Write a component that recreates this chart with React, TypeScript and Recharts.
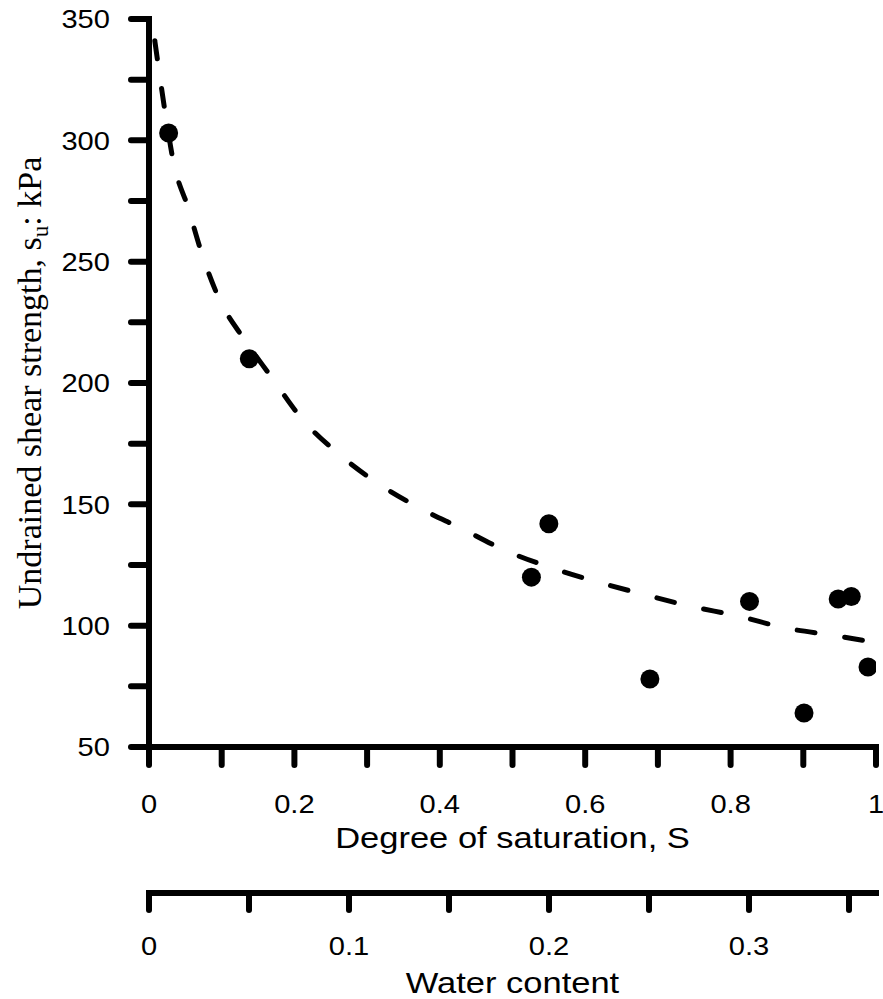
import React from 'react';
import { ComposedChart, Line, Scatter, XAxis, YAxis } from 'recharts';

// measured points: degree of saturation vs undrained shear strength (kPa)
const saturation = [0.027, 0.138, 0.526, 0.55, 0.689, 0.826, 0.901, 0.948, 0.966, 0.989];
const strength = [303, 210, 120, 142, 78, 110, 64, 111, 112, 83];

// dashed trend line
const fitSaturation = [0.008, 0.023, 0.033, 0.054, 0.073, 0.096, 0.131, 0.167, 0.211, 0.26, 0.313, 0.369, 0.43, 0.49, 0.552, 0.617, 0.679, 0.745, 0.81, 0.876, 0.942, 1.0];
const fitStrength = [341, 310, 292, 272, 253, 235, 218, 203, 185, 171, 159, 149, 140, 131, 124, 118, 113, 108, 104, 99, 96, 93];

const strengthTicks = [50, 75, 100, 125, 150, 175, 200, 225, 250, 275, 300, 325, 350];
const strengthLabels = [50, 100, 150, 200, 250, 300, 350];
const saturationTicks = [0, 0.1, 0.2, 0.3, 0.4, 0.5, 0.6, 0.7, 0.8, 0.9, 1];
const saturationLabels = [0, 0.2, 0.4, 0.6, 0.8, 1];
const waterTicks = [0, 0.05, 0.1, 0.15, 0.2, 0.25, 0.3, 0.35];
const waterLabels = [0, 0.1, 0.2, 0.3];
const waterMax = 0.3635;

const points = saturation.map((s, i) => ({ s, su: strength[i] }));
const fit = fitSaturation.map((s, i) => ({ s, su: fitStrength[i] }));
// invisible series so the water-content axis gets its ticks
const waterAnchor = waterTicks.map((w) => ({ w, su: 200 }));

const SANS = '"Liberation Sans", Arial, sans-serif';
const SERIF = '"Liberation Serif", "Times New Roman", serif';
const axisLine = { stroke: '#000', strokeWidth: 6, strokeLinecap: 'square' as const };
const tickLine = { stroke: '#000', strokeWidth: 6, strokeLinecap: 'round' as const };

const has = (list: number[], v: number) => list.some((l) => Math.abs(l - v) < 1e-9);

function makeTick(labels: number[], side: 'left' | 'bottom') {
  return (props: any) => {
    const { x, y, payload } = props;
    const v = payload.value;
    if (!has(labels, v)) return <g />;
    return (
      <g transform={`translate(${x},${y}) scale(1.12,1)`}>
        <text
          x={0}
          y={0}
          dy={side === 'left' ? '0.355em' : '0.71em'}
          textAnchor={side === 'left' ? 'end' : 'middle'}
          fontFamily={SANS}
          fontSize={26}
          fill="#000"
        >
          {String(+v.toFixed(2))}
        </text>
      </g>
    );
  };
}

function xTitle(text: string, drop: number) {
  return (props: any) => {
    const vb = props.viewBox;
    return (
      <g transform={`translate(${vb.x + vb.width / 2},${vb.y + drop}) scale(1.15,1)`}>
        <text x={0} y={0} textAnchor="middle" fontFamily={SANS} fontSize={30} fill="#000">
          {text}
        </text>
      </g>
    );
  };
}

const yTitle = (props: any) => {
  const vb = props.viewBox;
  const cy = vb.y + vb.height / 2;
  return (
    <text
      transform={`translate(${vb.x + 41},${cy}) rotate(-90)`}
      textAnchor="middle"
      fontFamily={SERIF}
      fontSize={34}
      fill="#000"
    >
      Undrained shear strength, s
      <tspan fontSize={23} dy={7}>u</tspan>
      <tspan dy={-7}>: kPa</tspan>
    </text>
  );
};

const dot = (props: any) => <circle cx={props.cx} cy={props.cy} r={9.5} fill="#000" />;
const noDot = () => <g />;

export default function App() {
  return (
    <div style={{ position: 'absolute', left: 0, top: 0, background: '#fff' }}>
      <ComposedChart width={883} height={999} margin={{ top: 19, right: 7, bottom: 6, left: 0 }}>
        <XAxis
          xAxisId="s"
          dataKey="s"
          type="number"
          domain={[0, 1]}
          ticks={saturationTicks}
          interval={0}
          allowDataOverflow
          height={146}
          axisLine={axisLine}
          tickLine={tickLine}
          tickSize={18}
          tickMargin={30}
          tick={makeTick(saturationLabels, 'bottom')}
          label={xTitle('Degree of saturation, S', 101)}
        />
        <XAxis
          xAxisId="w"
          dataKey="w"
          type="number"
          domain={[0, waterMax]}
          ticks={waterTicks}
          interval={0}
          allowDataOverflow
          height={100}
          axisLine={axisLine}
          tickLine={tickLine}
          tickSize={17}
          tickMargin={27}
          tick={makeTick(waterLabels, 'bottom')}
          label={xTitle('Water content', 100)}
        />
        <YAxis
          yAxisId="su"
          dataKey="su"
          type="number"
          domain={[50, 350]}
          ticks={strengthTicks}
          interval={0}
          allowDataOverflow
          width={149}
          axisLine={axisLine}
          tickLine={tickLine}
          tickSize={18}
          tickMargin={21}
          tick={makeTick(strengthLabels, 'left')}
          label={yTitle}
        />
        <Scatter
          xAxisId="w"
          yAxisId="su"
          data={waterAnchor}
          dataKey="su"
          shape={noDot}
          isAnimationActive={false}
        />
        <Line
          xAxisId="s"
          yAxisId="su"
          data={fit}
          dataKey="su"
          type="monotone"
          stroke="#000"
          strokeWidth={5}
          strokeDasharray="18 30"
          strokeLinecap="round"
          dot={false}
          activeDot={false}
          isAnimationActive={false}
        />
        <Scatter
          xAxisId="s"
          yAxisId="su"
          data={points}
          dataKey="su"
          fill="#000"
          shape={dot}
          isAnimationActive={false}
        />
      </ComposedChart>
    </div>
  );
}
